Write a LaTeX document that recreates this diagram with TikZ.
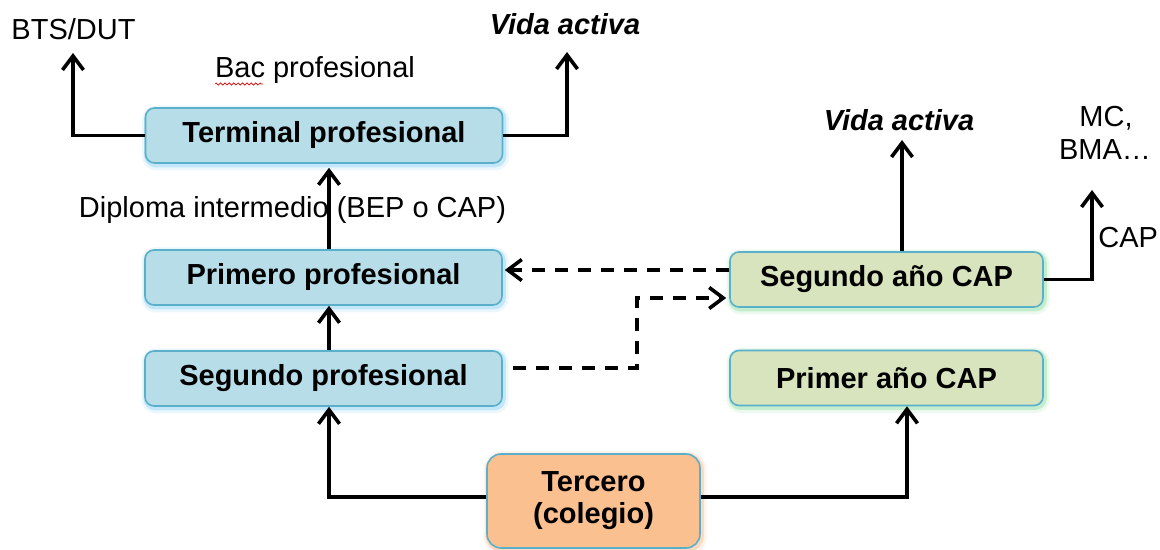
\documentclass[tikz,border=0pt]{standalone}
\usepackage{fontspec}
\setmainfont{Liberation Sans}
\usetikzlibrary{arrows.meta,decorations.pathmorphing}

\definecolor{boxblue}{RGB}{183,221,232}
\definecolor{boxgreen}{RGB}{215,228,189}
\definecolor{boxorange}{RGB}{250,192,144}
\definecolor{boxline}{RGB}{90,176,202}
\definecolor{glowblue}{RGB}{120,200,240}
\definecolor{glowgreen}{RGB}{120,215,140}
\definecolor{gloworange}{RGB}{245,170,120}

\begin{document}
\begin{tikzpicture}[x=0.5pt,y=-0.5pt,
  txt/.style={inner sep=0pt, anchor=base, font=\fontsize{14.5pt}{16pt}\selectfont},
  itxt/.style={txt, font=\bfseries\itshape\fontsize{14.5pt}{16pt}\selectfont},
  glow/.style={
    preaction={draw=#1, line width=5pt, draw opacity=0.15,
               transform canvas={shift={(0.8pt,-1.2pt)}}},
    preaction={draw=#1, line width=2.6pt, draw opacity=0.35,
               transform canvas={shift={(0.6pt,-0.9pt)}}}},
  box/.style={draw=boxline, line width=0.8pt, rounded corners=4.5pt,
    minimum width=178.5pt, minimum height=27.5pt, inner sep=0pt,
    align=center, font=\bfseries\fontsize{14.5pt}{16pt}\selectfont},
  bluebox/.style={box, fill=boxblue, glow=glowblue},
  greenbox/.style={box, fill=boxgreen, glow=glowgreen, minimum width=156.5pt},
  orangebox/.style={box, fill=boxorange, glow=gloworange,
    minimum width=106.5pt, minimum height=47pt, rounded corners=7pt},
  arr/.style={line width=1.8pt, line join=miter,
    -{Straight Barb[length=7pt,width=10.5pt]}},
  darr/.style={arr, dash pattern=on 6.5pt off 5pt}
]
\useasboundingbox (0,0) rectangle (1160,550);

% vocational track
\node[bluebox] (term) at (324,135.5) {Terminal profesional};
\node[bluebox] (prim) at (323.5,277.5) {Primero profesional};
\node[bluebox] (segp) at (323.5,378.5) {Segundo profesional};

% CAP track
\node[greenbox] (scap) at (886.5,279.5) {Segundo año CAP};
\node[greenbox] (pcap) at (886.5,378) {Primer año CAP};

% entry point
\node[orangebox] (terc) at (593.5,501) {Tercero\\(colegio)};

% outcome labels
\node[txt] (bts) at (73.5,40) {BTS/DUT};
\node[txt] (bac) at (315,78) {Bac profesional};
\node[itxt] (va1) at (565,35) {Vida activa};
\node[itxt] (va2) at (899,131) {Vida activa};
\node[txt] (mc) at (1106,127) {MC,};
\node[txt] (bma) at (1105,160) {BMA\ldots};
\node[txt, anchor=base west] (capl) at (1098,248) {CAP};
\node[txt] (dipl) at (292.5,218) {Diploma intermedio (BEP o CAP)};

% spell-check squiggle under "Bac"
\draw[red!85!black, line width=0.35pt,
  decorate, decoration={zigzag, segment length=2.2pt, amplitude=0.55pt}]
  (215,84) -- (263,84);

% free ends of the connectors
\coordinate (btsend) at (73,53);
\coordinate (va1end) at (567,52);
\coordinate (va2end) at (902,140);
\coordinate (mcend) at (1092,190);
\coordinate (leftup) at (329,0);
\coordinate (rightup) at (907,0);
\coordinate (dashA) at (0,270);
\coordinate (dashB) at (0,368);
\coordinate (dashC) at (0,298);
\coordinate (dashX) at (637,0);

% exits from the terminal year
\draw[arr] (term.west) -| (btsend);
\draw[arr] (term.east) -| (va1end);

% progression within the vocational track
\draw[arr] (prim.north -| leftup) -- ([yshift=-2pt]term.south -| leftup);
\draw[arr] (segp.north -| leftup) -- (prim.south -| leftup);

% from the entry point to both tracks
\draw[arr] (terc.west |- 0,497) -| (segp.south -| leftup);
\draw[arr] (terc.east |- 0,497) -| (pcap.south -| rightup);

% exits from the second CAP year
\draw[arr] (scap.north -| va2end) -- (va2end);
\draw[arr] (scap.east) -| (mcend);

% bridges between the tracks
\draw[darr] (scap.west |- dashA) -- ([xshift=1pt]prim.east |- dashA);
\draw[darr] ([xshift=5pt]segp.east |- dashB) -- (dashX |- dashB)
  -- (dashX |- dashC) -- ([xshift=-1.5pt]scap.west |- dashC);
\end{tikzpicture}
\end{document}
